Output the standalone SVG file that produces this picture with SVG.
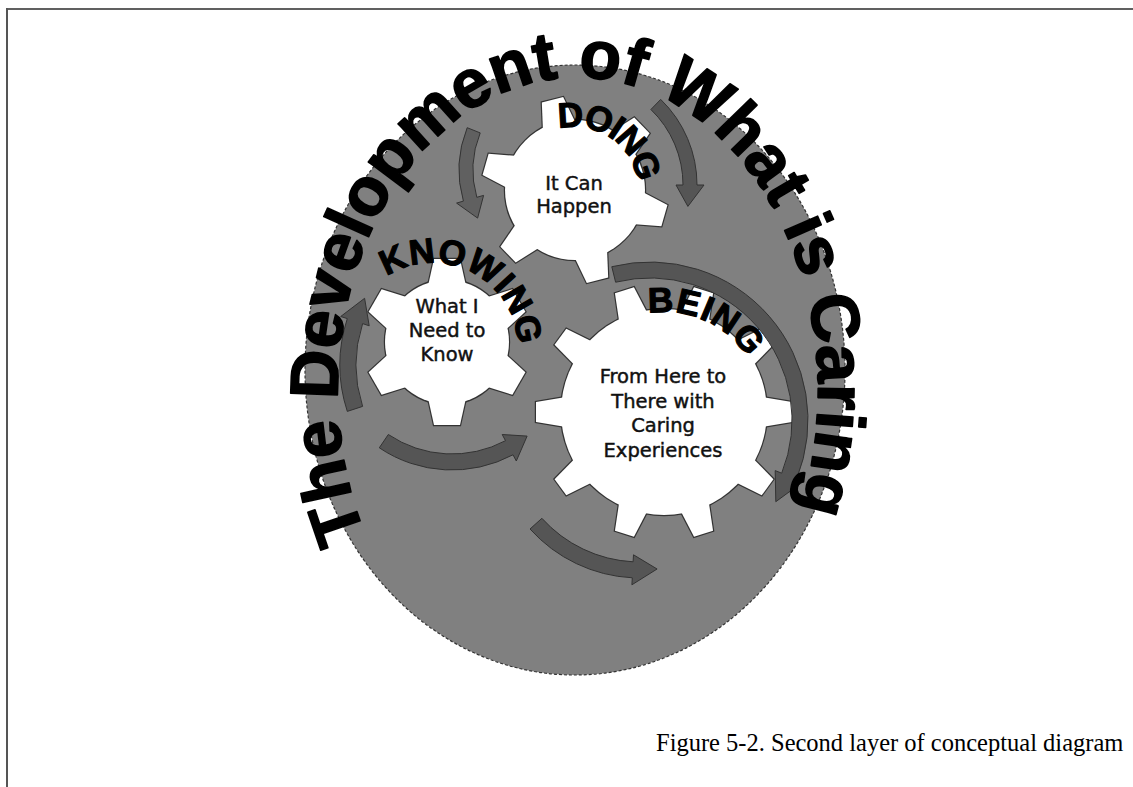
<svg xmlns="http://www.w3.org/2000/svg" width="1133" height="787" viewBox="0 0 1133 787">
  <style>
    .title{font-family:"Liberation Sans",Arial,sans-serif;font-weight:bold;font-size:68px;fill:#000;stroke:#000;stroke-width:1.6;stroke-linejoin:round}
    .rim{font-family:"Liberation Sans",Arial,sans-serif;font-weight:bold;font-size:35px;fill:#000;stroke:#000;stroke-width:1.2;stroke-linejoin:round}
    .gtext{font-family:"DejaVu Sans","Liberation Sans",sans-serif;font-size:19.5px;fill:#111;stroke:#111;stroke-width:0.45;text-anchor:middle}
    .caption{font-family:"Liberation Serif","Times New Roman",serif;font-size:24.5px;fill:#000}
    .arrow{fill:#555;stroke:#333;stroke-width:1}
    .edge{fill:#fff;stroke:#333;stroke-width:2.4}
    .face{fill:#fff;stroke:none}
  </style>
  <defs>
    <!-- tooth outlines, pointing up from the gear centre -->
    <polygon id="toothT" points="-17,-64 -11,-93 11,-93 17,-64"/>
    <polygon id="toothL" points="-19,-56 -13,-83 13,-83 19,-56"/>
    <polygon id="toothB" points="-15,-98 -10,-128 10,-128 15,-98"/>
    <g id="gearTop">
      <circle r="70"/>
      <use href="#toothT" transform="rotate(106)"/>
      <use href="#toothT" transform="rotate(166)"/>
      <use href="#toothT" transform="rotate(226)"/>
      <use href="#toothT" transform="rotate(286)"/>
      <use href="#toothT" transform="rotate(346)"/>
      <use href="#toothT" transform="rotate(46)"/>
    </g>
    <g id="gearLeft">
      <circle r="62"/>
      <use href="#toothL" transform="rotate(120)"/>
      <use href="#toothL" transform="rotate(180)"/>
      <use href="#toothL" transform="rotate(240)"/>
      <use href="#toothL" transform="rotate(300)"/>
      <use href="#toothL" transform="rotate(0)"/>
      <use href="#toothL" transform="rotate(60)"/>
    </g>
    <g id="gearBig">
      <circle r="103"/>
      <use href="#toothB" transform="rotate(90)"/>
      <use href="#toothB" transform="rotate(126)"/>
      <use href="#toothB" transform="rotate(162)"/>
      <use href="#toothB" transform="rotate(198)"/>
      <use href="#toothB" transform="rotate(234)"/>
      <use href="#toothB" transform="rotate(270)"/>
      <use href="#toothB" transform="rotate(306)"/>
      <use href="#toothB" transform="rotate(342)"/>
      <use href="#toothB" transform="rotate(18)"/>
      <use href="#toothB" transform="rotate(54)"/>
    </g>
    <path id="titleArc" d="M377,560 A240,312 0 1 1 779,560" fill="none"/>
    <path id="doingArc" d="M558.7,129.1 A63,63 0 0 1 637.8,184.5" fill="none"/>
    <path id="knowingArc" d="M386.7,276.7 A85,85 0 0 1 517.9,345.0" fill="none"/>
    <path id="beingArc" d="M648.4,313.2 A100,100 0 0 1 747.9,357.5" fill="none"/>
  </defs>

  <rect width="1133" height="787" fill="#fff"/>
  <!-- page frame -->
  <line x1="6" y1="9" x2="1133" y2="9" stroke="#2b2b2b" stroke-width="1.6"/>
  <line x1="7" y1="8" x2="7" y2="787" stroke="#555" stroke-width="2"/>

  <!-- backdrop -->
  <ellipse id="backdrop" cx="575" cy="370" rx="270" ry="305" fill="#808080" stroke="#333" stroke-width="1.2" stroke-dasharray="3 2"/>

  <!-- gears -->
  <g id="node-doing">
    <use href="#gearTop" transform="translate(575 190)" class="edge"/>
    <use href="#gearTop" transform="translate(575 190)" class="face"/>
    <text class="gtext"><tspan x="574" y="190">It Can</tspan><tspan x="574" y="213">Happen</tspan></text>
  </g>
  <g id="node-knowing">
    <use href="#gearLeft" transform="translate(447 342)" class="edge"/>
    <use href="#gearLeft" transform="translate(447 342)" class="face"/>
    <text class="gtext"><tspan x="447" y="313">What I</tspan><tspan x="447" y="337">Need to</tspan><tspan x="447" y="361">Know</tspan></text>
  </g>
  <g id="node-being">
    <use href="#gearBig" transform="translate(664 412)" class="edge"/>
    <use href="#gearBig" transform="translate(664 412)" class="face"/>
    <text class="gtext"><tspan x="663" y="383">From Here to</tspan><tspan x="663" y="408">There with</tspan><tspan x="663" y="432">Caring</tspan><tspan x="663" y="457">Experiences</tspan></text>
  </g>

  <!-- cycle arrows -->
  <g id="connectors">
    <path class="arrow" style="fill:#606060" d="M467.2,127.7 A113,113 0 0 0 463.4,201.1 L456.6,203.1 L477.6,218.1 L483.6,195.4 L476.8,197.3 A99,99 0 0 1 480.2,132.9 Z"/>
    <path class="arrow" d="M660.7,99.4 A119,119 0 0 1 697,185 L704,185 L687.9,206.4 L676,185 L683,185 A105,105 0 0 0 650.9,109.5 Z"/>
    <path class="arrow" d="M611.8,266.7 A158,158 0 0 1 796.5,479.2 L803.0,481.8 L775.8,501.7 L775.2,470.6 L781.7,473.2 A142,142 0 0 0 615.6,282.2 Z"/>
    <path class="arrow" d="M379.3,447.8 A130,130 0 0 0 513.0,454.8 L516.3,461.0 L527.1,436.1 L502.2,434.5 L505.5,440.7 A114,114 0 0 1 388.3,434.5 Z"/>
    <path class="arrow" d="M347.3,411.4 A150,150 0 0 1 347.3,318.6 L340.7,316.5 L364.6,298.3 L369.2,325.8 L362.6,323.6 A134,134 0 0 0 362.6,406.4 Z"/>
    <path class="arrow" d="M530.0,529.0 A148,148 0 0 0 632.3,577.8 L631.9,584.8 L657.1,569.0 L633.5,554.8 L633.1,561.8 A132,132 0 0 1 541.9,518.3 Z"/>
  </g>

  <!-- rim labels -->
  <text class="rim"><textPath href="#doingArc" textLength="108" lengthAdjust="spacing">DOING</textPath></text>
  <text class="rim"><textPath href="#knowingArc" textLength="179" lengthAdjust="spacing">KNOWING</textPath></text>
  <text class="rim"><textPath href="#beingArc" textLength="115" lengthAdjust="spacing">BEING</textPath></text>

  <!-- arched title -->
  <text class="title"><textPath href="#titleArc" startOffset="27" textLength="1142" lengthAdjust="spacing">The Development of What is Caring</textPath></text>

  <text class="caption" x="656" y="751">Figure 5-2. Second layer of conceptual diagram</text>
</svg>
